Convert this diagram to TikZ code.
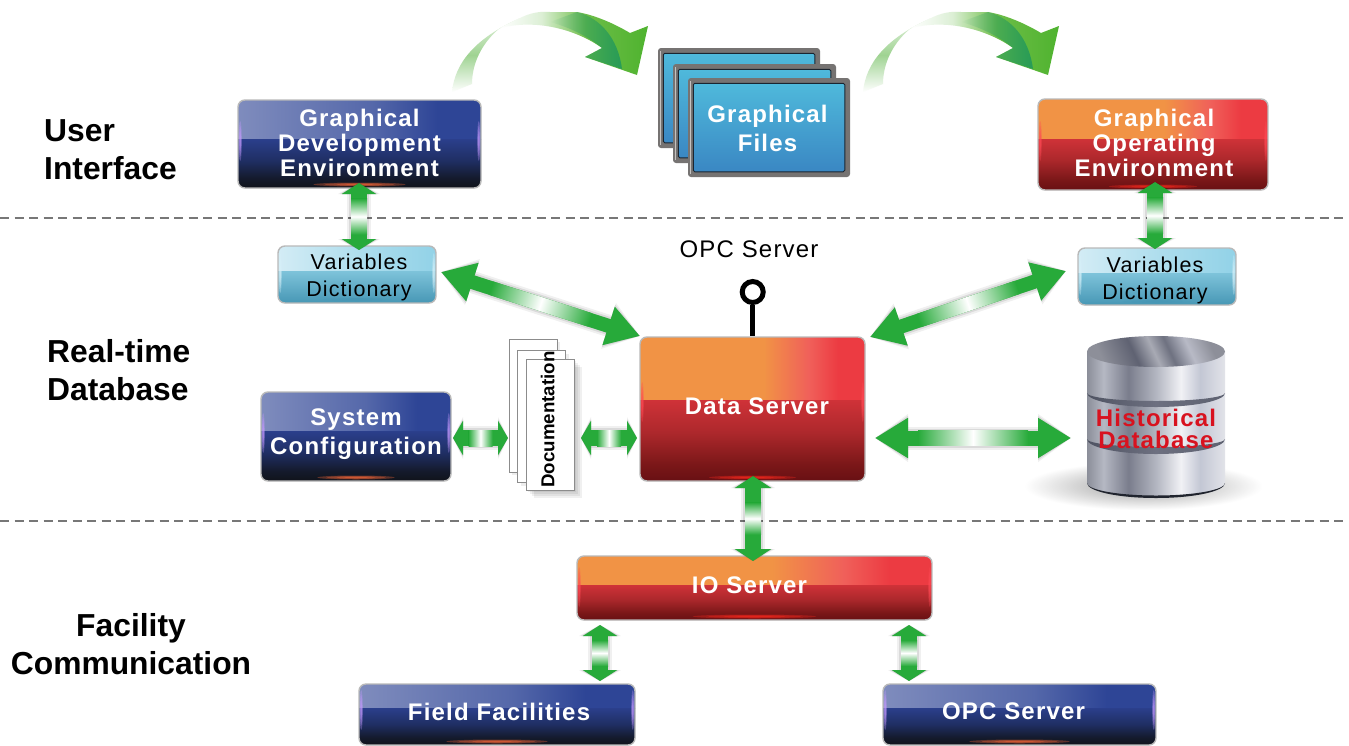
\documentclass[tikz,border=0pt]{standalone}
\usepackage{fontspec}
\setmainfont{Liberation Sans}
\newfontfamily\lsp[LetterSpace=5]{Liberation Sans}
\usetikzlibrary{calc,arrows.meta,fadings}
\definecolor{cgreen}{HTML}{27AA3A}
\definecolor{dashgray}{HTML}{777777}
\definecolor{rimgray}{HTML}{B9B9B9}
\definecolor{blueglow}{HTML}{FF6A3A}
\definecolor{blueside}{HTML}{C79BFF}
\definecolor{redglow}{HTML}{FF2A1E}
\definecolor{redside}{HTML}{FF4A55}
\definecolor{cyanglow}{HTML}{4797B5}
\definecolor{cyanside}{HTML}{D8F2FA}
\definecolor{HTMLpale}{HTML}{9FD392}
\definecolor{HTMLtip}{HTML}{E5F3E0}
\definecolor{HTMLteal}{HTML}{1B9460}
\definecolor{HTMLframe}{HTML}{767372}
\definecolor{HTMLrim}{HTML}{C4C1BF}
\definecolor{HTMLbezel}{HTML}{1B2530}
\definecolor{HTMLscreenA}{HTML}{4FB9DB}
\definecolor{HTMLscreenB}{HTML}{3A87C3}
\definecolor{HTMLred}{HTML}{D8121F}
\definecolor{HTMLcylbot}{HTML}{20242E}
\newcommand\dc[2]{\definecolor{#1}{HTML}{#2}}
\dc{bt1}{7F8CBD}\dc{bt2}{5568AA}\dc{bt3}{2E4596}
\dc{bb1}{10131A}\dc{bb2}{141A2C}\dc{bb3}{1F2E62}\dc{bb4}{2B3F8C}
\dc{rt1}{F19345}\dc{rt2}{F0605A}\dc{rt3}{EC3B42}
\dc{rb1}{681013}\dc{rb2}{7A1718}\dc{rb3}{AD282C}\dc{rb4}{CF3238}
\dc{ct1}{D3ECF5}\dc{ct2}{A8DBEC}\dc{ct3}{92D2E7}
\dc{cb1}{4797B5}\dc{cb2}{7EC3DA}
\dc{cy1}{8B8E99}\dc{cy2}{B5B8C3}\dc{cy3}{7A7D8C}\dc{cy4}{B3B6C1}\dc{cy5}{F1F1F5}\dc{cy6}{C3C7D4}\dc{cy7}{E2E3E9}
\dc{ctp1}{8D8F99}\dc{ctp2}{5F6272}\dc{ctp3}{A8AAB4}\dc{ctp4}{6E7180}\dc{ctp5}{B8BAC6}
\dc{cbd1}{4F5362}\dc{cbd2}{6D7080}\dc{cbd3}{5D6170}
\dc{rf1}{DCEFD5}\dc{rf2}{6DBD47}\dc{rf3}{4FB32F}
\pgfdeclarehorizontalshading{bluetop}{100bp}{color(0bp)=(bt1);color(25bp)=(bt1);color(52.5bp)=(bt2);color(66bp)=(bt3);color(100bp)=(bt3)}
\pgfdeclareverticalshading{bluebot}{100bp}{color(0bp)=(bb1);color(25bp)=(bb1);color(35bp)=(bb2);color(52.5bp)=(bb3);color(75bp)=(bb4);color(100bp)=(bb4)}
\pgfdeclarehorizontalshading{redtop}{100bp}{color(0bp)=(rt1);color(52.5bp)=(rt1);color(62.5bp)=(rt2);color(69bp)=(rt3);color(100bp)=(rt3)}
\pgfdeclareverticalshading{redbot}{100bp}{color(0bp)=(rb1);color(25bp)=(rb1);color(35bp)=(rb2);color(55bp)=(rb3);color(75bp)=(rb4);color(100bp)=(rb4)}
\pgfdeclarehorizontalshading{cyantop}{100bp}{color(0bp)=(ct1);color(25bp)=(ct1);color(55bp)=(ct2);color(75bp)=(ct3);color(100bp)=(ct3)}
\pgfdeclareverticalshading{cyanbot}{100bp}{color(0bp)=(cb1);color(25bp)=(cb1);color(75bp)=(cb2);color(100bp)=(cb2)}
\pgfdeclarehorizontalshading{cylbody}{100bp}{color(0bp)=(cy1);color(25bp)=(cy1);color(31bp)=(cy2);color(40bp)=(cy3);color(50bp)=(cy4);color(59bp)=(cy5);color(66bp)=(cy6);color(75bp)=(cy7);color(100bp)=(cy7)}
\pgfdeclarehorizontalshading{cyltop}{100bp}{color(0bp)=(ctp1);color(25bp)=(ctp1);color(40bp)=(ctp2);color(49bp)=(ctp3);color(56bp)=(ctp4);color(65bp)=(ctp5);color(75bp)=(ctp1);color(100bp)=(ctp1)}
\pgfdeclarehorizontalshading{cylband}{100bp}{color(0bp)=(cbd1);color(25bp)=(cbd1);color(50bp)=(cbd2);color(75bp)=(cbd3);color(100bp)=(cbd3)}
\pgfdeclarehorizontalshading{ribbonfront}{100bp}{color(0bp)=(white);color(25bp)=(white);color(39bp)=(rf1);color(54bp)=(rf2);color(75bp)=(rf3);color(100bp)=(rf3)}
\pgfdeclarehorizontalshading{hilite}{100bp}{color(0bp)=(cgreen);color(25bp)=(cgreen);color(50bp)=(white);color(75bp)=(cgreen);color(100bp)=(cgreen)}
\tikzfading[name=softoval,inner color=transparent!30,outer color=transparent!100]
\tikzset{
  sectionlabel/.style={font=\bfseries\fontsize{31.8}{38}\selectfont,align=left,inner sep=0pt,text=black},
  bluetext/.style={text=white,font=\lsp\bfseries\fontsize{24}{25}\selectfont},
  redtext/.style={text=white,font=\lsp\bfseries\fontsize{24}{25}\selectfont},
  cyantext/.style={text=black,font=\lsp\fontsize{21.5}{27}\selectfont},
  boxframe/.style={draw=rimgray,line width=1.4pt,rounded corners=7pt,inner sep=0pt,align=center},
  divider/.style={draw=dashgray,line width=2.6pt,dash pattern=on 9pt off 5.5pt},
  sheet/.style={draw=gray!90,line width=1pt,fill=white},
}
% one line of text moved: dx (twice the shift), dy, text
\newcommand\up[3]{\raisebox{#2pt}{\hspace*{#1pt}#3}}
% soft glow made of stacked translucent ellipses: colour, cx, cy, rx, ry
\newcommand\glowstack[5]{%
  \foreach \k in {1,.75,.5,.3}{\fill[#1,opacity=.32] (#2,#3) ellipse [x radius={#4*\k},y radius={#5*\k}];}%
}
% glossy box: name, x0, y0, x1, y1, split y, colour family, text
\newcommand\gbox[8]{%
  \pgfmathsetmacro\bw{#4-#2}\pgfmathsetmacro\bh{#5-#3}%
  \pgfmathsetmacro\bcx{(#4+#2)/2}\pgfmathsetmacro\bcy{(#5+#3)/2}%
  \pgfmathsetmacro\gw{0.14*\bw+12}%
  \begin{scope}
    \clip[rounded corners=7pt] (#2,#3) rectangle (#4,#5);
    \shade[shading=#7top] (#2,#3) rectangle (#4,#6);
    \shade[shading=#7bot] (#2,#6) rectangle (#4,#5);
    \glowstack{#7glow}{\bcx}{#5-3.5}{\gw}{2}
    \glowstack{#7side}{#2+2.2}{#6+2}{1.6}{20}
    \glowstack{#7side}{#4-2.2}{#6+2}{1.6}{20}
  \end{scope}
  \node[boxframe,#7text,minimum width=\bw pt,minimum height=\bh pt] (#1) at (\bcx,\bcy) {#8};
}
% double-headed shaded connector: from, to, shaft width, head width, head length, half length of the highlight
\newcommand\gconn[6]{%
  \foreach \sw/\so in {8/.06,4/.09,0/.13}{
    \draw[black,opacity=\so,shift={(4.5,5.5)},line width=#3pt+\sw pt,{Triangle[length=#5pt,width=#4pt+\sw pt]}-{Triangle[length=#5pt,width=#4pt+\sw pt]}] (#1) -- (#2);
  }
  \draw[cgreen,line width=#3pt,{Triangle[length=#5pt,width=#4pt]}-{Triangle[length=#5pt,width=#4pt]}] (#1) -- (#2);
  \path let \p1=($(#2)-(#1)$) in \pgfextra{\pgfmathsetmacro\gang{atan2(\y1,\x1)}\global\let\ganggl\gang};
  \begin{scope}[transform canvas={shift={($(#1)!.5!(#2)$)},rotate=\ganggl}]
    \pgfmathsetmacro\hw{#3/2}
    \shade[shading=hilite] (-#6,-\hw) rectangle (#6,\hw);
  \end{scope}
}
% curved ribbon arrow
\newcommand\ribbonarrow[1]{%
  \begin{scope}[shift={(#1,0)}]
    \shade[bottom color=white,top color=HTMLtip,middle color=HTMLpale]
      (452,92) .. controls (455,62) and (476,38) .. (520,18) -- (500,28) .. controls (485,40) and (472,60) .. (472,84) -- cycle;
    \shade[shading=ribbonfront]
      (520,18) .. controls (530,13) and (540,11) .. (550,12) -- (577,12) .. controls (595,15) and (615,24) .. (630,33)
      -- (648,26) -- (637,75) -- (585,57) -- (602,48) .. controls (580,32) and (540,18) .. (500,28) -- cycle;
    \fill[HTMLteal,opacity=.8,path fading=west]
      (577,12) .. controls (600,18) and (618,38) .. (622,69) -- (585,57) -- (602,48) .. controls (590,38) and (572,28) .. (550,22) -- cycle;
  \end{scope}
}
% monitor: name, x0, y0, x1, y1, text
\newcommand\monitor[6]{%
  \pgfmathsetmacro\bw{#4-#2-10.5}\pgfmathsetmacro\bh{#5-#3-10.5}%
  \pgfmathsetmacro\bcx{(#4+#2)/2}\pgfmathsetmacro\bcy{(#5+#3)/2}%
  \fill[HTMLframe,rounded corners=3pt] (#2,#3) rectangle (#4,#5);
  \draw[HTMLrim,line width=1.6pt] (#2+2.4,#3+3) -- (#2+2.4,#5-3);
  \node[draw=HTMLbezel,line width=1pt,top color=HTMLscreenA,bottom color=HTMLscreenB,rounded corners=1.5pt,
    minimum width=\bw pt,minimum height=\bh pt,inner sep=0pt,align=center,text=white,
    font=\lsp\bfseries\fontsize{24}{28.5}\selectfont] (#1) at (\bcx,\bcy) {#6};
}
\begin{document}
\begin{tikzpicture}[x=1pt,y=-1pt,line cap=butt]
\useasboundingbox (0,0) rectangle (1349,745);
\fill[white] (0,0) rectangle (1349,745);

% dividers
\coordinate (d1a) at (0,218); \coordinate (d1b) at (1346,218);
\coordinate (d2a) at (0,521); \coordinate (d2b) at (1346,521);
\draw[divider] (d1a) -- (d1b);
\draw[divider] (d2a) -- (d2b);

% section labels
\node[sectionlabel,anchor=west] (ui) at (44,150) {User\\Interface};
\node[sectionlabel,anchor=west] (rt) at (47,370) {Real-time\\Database};
\node[sectionlabel,align=center] (fc) at (131,644.5) {Facility\\Communication};

% ribbons and monitors
\ribbonarrow{0}
\ribbonarrow{411}
\monitor{gf3}{658}{48}{820}{148}{}
\monitor{gf2}{673}{64}{836}{163}{}
\monitor{gf1}{688}{78}{850}{177}{\up{-3}{0}{\rule{0pt}{19pt}Graphical}\\\up{-3}{0}{Files}}

% boxes
\gbox{gde}{238}{100}{481}{188}{139}{blue}{\up{0}{3}{Graphical}\\\up{0}{3}{Development}\\\up{0}{3}{Environment}}
\gbox{goe}{1038}{99}{1268}{190}{139}{red}{\up{2}{4}{Graphical}\\\up{2}{4}{Operating}\\\up{2}{4}{Environment}}
\gbox{vdl}{278}{246}{436}{303}{271}{cyan}{\up{4}{0}{\rule{0pt}{22pt}Variables}\\\up{4}{0}{Dictionary}}
\gbox{vdr}{1078}{248}{1236}{305}{273}{cyan}{\up{-4}{0}{\rule{0pt}{24pt}Variables}\\\up{-4}{0}{Dictionary}}
\gbox{sys}{261}{392}{451}{481}{431}{blue}{\up{0}{9}{System}\\[1.5pt]\up{0}{9}{Configuration}}
\gbox{ds}{640}{337}{865}{481}{400}{red}{\up{9}{6}{Data Server}}
\gbox{io}{577}{556}{932}{620}{585}{red}{\up{-10}{6}{IO Server}}
\gbox{ff}{359}{684}{635}{745}{708}{blue}{\up{4}{6}{Field Facilities}}
\gbox{opc}{883}{684}{1156}{745}{708}{blue}{\up{-12}{6}{OPC Server}}

% OPC lollipop
\node[font=\lsp\fontsize{24}{26}\selectfont,inner sep=0pt] (opclabel) at (749,249) {OPC Server};
\node[circle,draw=black,line width=5pt,fill=white,minimum size=21pt,inner sep=0pt] (lolli) at (752.7,292) {};
\draw[black,line width=5pt] (lolli.south) -- (lolli.south |- ds.north);

% documentation sheets
\foreach \sh in {2,4,6,8}{\fill[black,opacity=.06] (526+\sh,359+\sh) rectangle (574+\sh,490+\sh);}
\fill[black,opacity=.07] (521,354) rectangle (569,486);
\fill[black,opacity=.07] (512,342) rectangle (560,475);
\node[sheet,minimum width=48pt,minimum height=133pt,inner sep=0pt] (doc3) at (533,405.5) {};
\node[sheet,minimum width=48pt,minimum height=132pt,inner sep=0pt] (doc2) at (541,416) {};
\node[sheet,minimum width=48pt,minimum height=131pt,inner sep=0pt] (doc1) at (550,424.5) {\rotatebox{90}{\makebox[0pt]{\hspace*{10pt}\raisebox{5pt}{\bfseries\fontsize{18.7}{20}\selectfont Documentation}}}};

% historical database cylinder
\fill[black,opacity=.55,path fading=softoval] (1025,462) rectangle (1262,510);
\shade[shading=cylbody] (1087,352) -- (1087,483) arc[start angle=180,end angle=0,x radius=69,y radius=13] -- (1225,352) -- cycle;
\fill[HTMLcylbot] (1087,483) arc[start angle=180,end angle=0,x radius=69,y radius=15] arc[start angle=0,end angle=180,x radius=69,y radius=12.5] -- cycle;
\shade[shading=cylband] (1087,393) arc[start angle=180,end angle=0,x radius=69,y radius=14] arc[start angle=0,end angle=180,x radius=69,y radius=8] -- cycle;
\shade[shading=cylband] (1087,439) arc[start angle=180,end angle=0,x radius=69,y radius=15] arc[start angle=0,end angle=180,x radius=69,y radius=8] -- cycle;
\shade[shading=cyltop,shading angle=25] (1156,351.5) ellipse [x radius=69,y radius=15.5];
\node[text=HTMLred,font=\lsp\bfseries\fontsize{24}{22}\selectfont,align=center,inner sep=0pt] (hist) at (1156,429) {Historical\\Database};

% connectors
\coordinate (a1s) at (359,183); \coordinate (a1e) at (359,250);
\coordinate (a2s) at (1155,182); \coordinate (a2e) at (1155,249);
\coordinate (a3s) at (441,272); \coordinate (a3e) at (640,336);
\coordinate (a4s) at (870,337); \coordinate (a4e) at (1066,271);
\coordinate (a5s) at (875,438); \coordinate (a5e) at (1071,438);
\coordinate (a6s) at (453,438); \coordinate (a6e) at (508,438);
\coordinate (a7s) at (581,438); \coordinate (a7e) at (637,438);
\coordinate (a8s) at (753,476); \coordinate (a8e) at (753,561);
\coordinate (a9s) at (600,625); \coordinate (a9e) at (600,681);
\coordinate (a10s) at (909,625); \coordinate (a10e) at (909,681);
\gconn{a1s}{a1e}{16}{34}{11}{18}
\gconn{a2s}{a2e}{16}{34}{11}{18}
\gconn{a3s}{a3e}{14}{38}{33}{52}
\gconn{a4s}{a4e}{14}{38}{33}{52}
\gconn{a5s}{a5e}{15}{38}{33}{55}
\gconn{a6s}{a6e}{16}{34}{10}{12}
\gconn{a7s}{a7e}{16}{34}{10}{12}
\gconn{a8s}{a8e}{16}{36}{12}{16}
\gconn{a9s}{a9e}{16}{34}{11}{13}
\gconn{a10s}{a10e}{16}{34}{11}{13}
\end{tikzpicture}
\end{document}
